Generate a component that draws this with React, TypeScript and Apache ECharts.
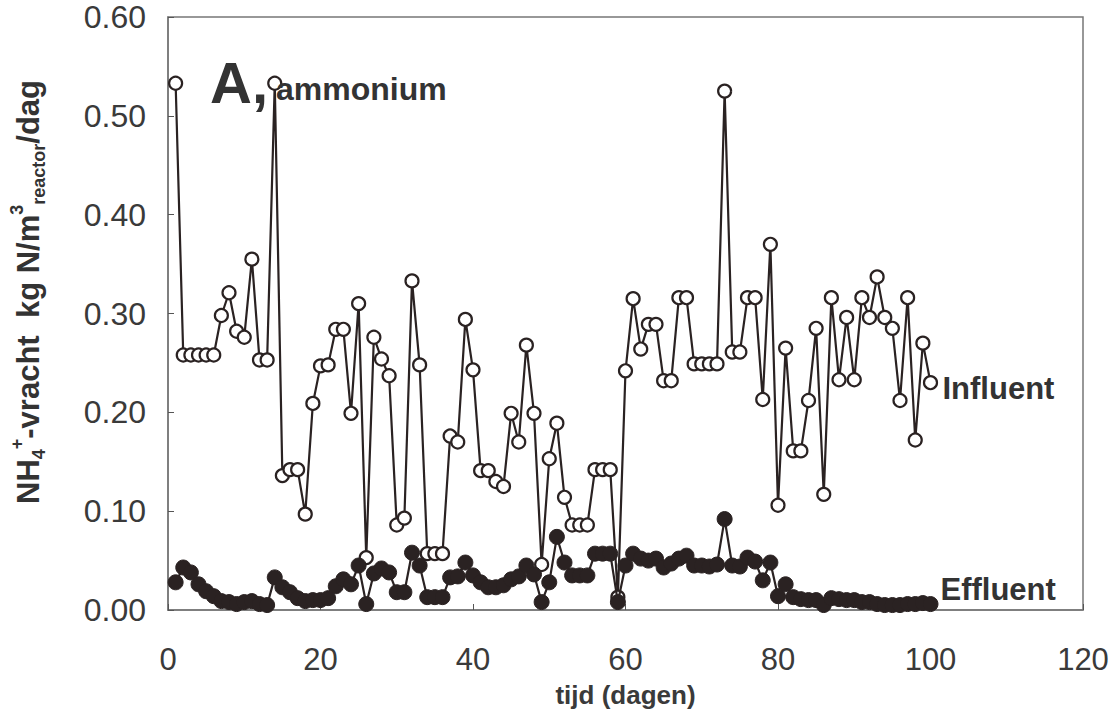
import React, { useEffect, useRef } from "react";
import * as echarts from "echarts";

const days: number[] = Array.from({ length: 100 }, (_, i) => i + 1);

const influent: number[] = [
  0.533, 0.258, 0.258, 0.258, 0.258, 0.258, 0.298, 0.321, 0.282, 0.276,
  0.355, 0.253, 0.253, 0.533, 0.136, 0.142, 0.142, 0.097, 0.209, 0.247,
  0.248, 0.284, 0.284, 0.199, 0.31, 0.053, 0.276, 0.254, 0.237, 0.086,
  0.093, 0.333, 0.248, 0.057, 0.057, 0.057, 0.176, 0.17, 0.294, 0.243,
  0.141, 0.141, 0.13, 0.125, 0.199, 0.17, 0.268, 0.199, 0.046, 0.153,
  0.189, 0.114, 0.086, 0.086, 0.086, 0.142, 0.142, 0.142, 0.013, 0.242,
  0.315, 0.264, 0.289, 0.289, 0.232, 0.232, 0.316, 0.316, 0.249, 0.249,
  0.249, 0.249, 0.525, 0.261, 0.261, 0.316, 0.316, 0.213, 0.37, 0.106,
  0.265, 0.161, 0.161, 0.212, 0.285, 0.117, 0.316, 0.233, 0.296, 0.233,
  0.316, 0.296, 0.337, 0.296, 0.285, 0.212, 0.316, 0.172, 0.27, 0.23,
];

const effluent: number[] = [
  0.028, 0.043, 0.038, 0.026, 0.019, 0.014, 0.009, 0.008, 0.006, 0.008,
  0.009, 0.006, 0.005, 0.033, 0.023, 0.018, 0.012, 0.009, 0.01, 0.01,
  0.012, 0.024, 0.031, 0.026, 0.045, 0.006, 0.037, 0.042, 0.038, 0.018,
  0.018, 0.058, 0.045, 0.013, 0.013, 0.013, 0.033, 0.034, 0.048, 0.035,
  0.028, 0.023, 0.023, 0.025, 0.031, 0.034, 0.045, 0.036, 0.008, 0.028,
  0.074, 0.048, 0.035, 0.035, 0.035, 0.057, 0.057, 0.057, 0.008, 0.045,
  0.057, 0.052, 0.05, 0.052, 0.043, 0.047, 0.052, 0.055, 0.045, 0.045,
  0.044, 0.046, 0.092, 0.045, 0.044, 0.053, 0.049, 0.03, 0.048, 0.014,
  0.026, 0.013, 0.011, 0.01, 0.01, 0.005, 0.012, 0.011, 0.01, 0.01,
  0.008, 0.008, 0.006, 0.005, 0.005, 0.005, 0.006, 0.006, 0.007, 0.006,
];

const xTicks = { min: 0, max: 120, interval: 20 };
const yTicks = { min: 0, max: 0.6, interval: 0.1 };

const INK = "#2a2222";
const TXT = "#3a3a3a";
const FONT = "'Liberation Sans', Arial, Helvetica, sans-serif";

export default function App() {
  const ref = useRef<HTMLDivElement>(null);

  useEffect(() => {
    if (!ref.current) return;
    const chart = echarts.init(ref.current, null, { renderer: "svg" });
    const infData = days.map((d, i) => [d, influent[i]]);
    const effData = days.map((d, i) => [d, effluent[i]]);

    chart.setOption({
      animation: false,
      backgroundColor: "#ffffff",
      textStyle: { fontFamily: FONT },
      title: {
        text: "{a|A,}{b|ammonium}",
        left: 205,
        top: 44,
        textStyle: {
          rich: {
            a: { fontSize: 58, fontWeight: "bold", color: "#333", fontFamily: FONT, lineHeight: 62, verticalAlign: "bottom" },
            b: { fontSize: 32, fontWeight: "bold", color: "#333", fontFamily: FONT, lineHeight: 62, verticalAlign: "bottom", padding: [0, 0, 6, 8] },
          },
        },
      },
      grid: { left: 168, right: 31, top: 17, bottom: 103, show: true, borderColor: "#777", borderWidth: 1.5, backgroundColor: "transparent" },
      xAxis: {
        type: "value",
        min: xTicks.min,
        max: xTicks.max,
        interval: xTicks.interval,
        name: "tijd (dagen)",
        nameLocation: "middle",
        nameGap: 72,
        nameTextStyle: { fontSize: 26, fontWeight: "bold", color: TXT, fontFamily: FONT },
        axisLine: { show: true, lineStyle: { color: "#777", width: 1.5 } },
        axisTick: { show: true, inside: true, length: 6, lineStyle: { color: "#555" } },
        axisLabel: { fontSize: 31, color: TXT, margin: 34, fontFamily: FONT },
        splitLine: { show: false },
      },
      yAxis: {
        type: "value",
        min: yTicks.min,
        max: yTicks.max,
        interval: yTicks.interval,
        axisLine: { show: true, lineStyle: { color: "#777", width: 1.5 } },
        axisTick: { show: true, inside: true, length: 6, lineStyle: { color: "#555" } },
        axisLabel: { fontSize: 32, color: TXT, margin: 22, fontFamily: FONT, formatter: (v: number) => v.toFixed(2) },
        splitLine: { show: false },
      },
      graphic: [
        {
          type: "text",
          x: 28,
          y: 292,
          rotation: Math.PI / 2,
          style: {
            text: "{b|NH}{sub|4}{sup|+}{b|-vracht  kg N/m}{sup|3}{sub|reactor}{b|/dag}",
            align: "center",
            verticalAlign: "middle",
            rich: {
              b: { fontSize: 31, fontWeight: "bold", fill: "#333", fontFamily: FONT, lineHeight: 40, verticalAlign: "middle" },
              sub: { fontSize: 18, fontWeight: "bold", fill: "#333", fontFamily: FONT, lineHeight: 40, verticalAlign: "bottom" },
              sup: { fontSize: 18, fontWeight: "bold", fill: "#333", fontFamily: FONT, lineHeight: 40, verticalAlign: "top" },
            },
          },
        },
      ],
      series: [
        {
          name: "Influent",
          type: "line",
          data: infData,
          symbol: "circle",
          symbolSize: 13,
          showAllSymbol: true,
          lineStyle: { color: INK, width: 2.2 },
          itemStyle: { color: "#ffffff", borderColor: INK, borderWidth: 2.2 },
          endLabel: {
            show: true,
            formatter: "Influent",
            distance: 12,
            offset: [0, 6],
            fontSize: 31,
            fontWeight: "bold",
            color: "#333",
            fontFamily: FONT,
          },
          z: 3,
        },
        {
          name: "Effluent",
          type: "line",
          data: effData,
          symbol: "circle",
          symbolSize: 15,
          showAllSymbol: true,
          lineStyle: { color: INK, width: 2.2 },
          itemStyle: { color: INK, borderColor: INK, borderWidth: 1 },
          endLabel: {
            show: true,
            formatter: "Effluent",
            distance: 10,
            offset: [0, -15],
            fontSize: 31,
            fontWeight: "bold",
            color: "#333",
            fontFamily: FONT,
          },
          z: 4,
        },
      ],
    });

    return () => chart.dispose();
  }, []);

  return (
    <div
      ref={ref}
      style={{ position: "fixed", left: 0, top: 0, width: 1114, height: 713, background: "#fff" }}
    />
  );
}
